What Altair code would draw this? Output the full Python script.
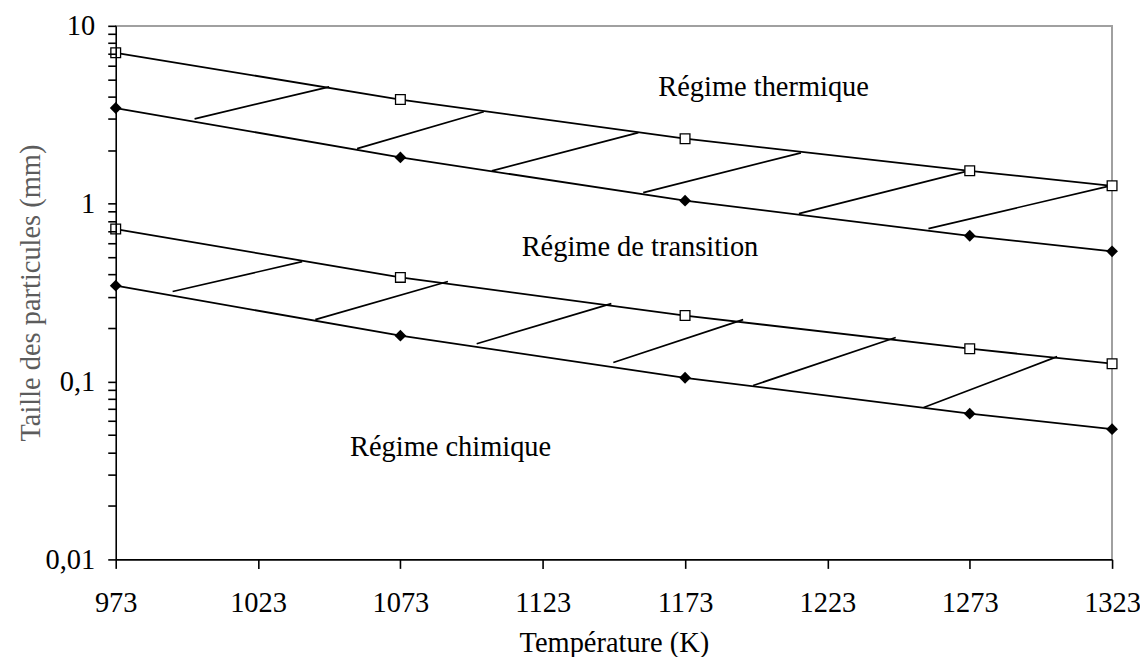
import altair as alt
import pandas as pd

# ---- data ----
temps = [973, 1073, 1173, 1273, 1323]
upper_sq = [7.05, 3.85, 2.32, 1.53, 1.26]
upper_dm = [3.45, 1.82, 1.04, 0.66, 0.54]
lower_sq = [0.72, 0.385, 0.235, 0.153, 0.126]
lower_dm = [0.346, 0.181, 0.105, 0.066, 0.054]

hatch_x0 = [1000.7, 1057.8, 1105.1, 1158.3, 1213.0, 1258.5, 993.0, 1043.1, 1099.8, 1147.8, 1196.9, 1256.8]
hatch_y0 = [3.00, 2.04, 1.53, 1.153, 0.879, 0.724, 0.321, 0.223, 0.163, 0.128, 0.095, 0.0715]
hatch_x1 = [1048.0, 1102.3, 1156.6, 1213.7, 1272.5, 1322.3, 1038.5, 1089.7, 1147.1, 1193.4, 1247.0, 1303.7]
hatch_y1 = [4.54, 3.29, 2.51, 1.93, 1.53, 1.26, 0.472, 0.365, 0.274, 0.223, 0.177, 0.138]

region_labels = ["Régime thermique", "Régime de transition", "Régime chimique"]
region_x = [1163.6, 1115.6, 1055.3]
region_y = [4.04, 0.51, 0.0379]

x_ticks = [973, 1023, 1073, 1123, 1173, 1223, 1273, 1323]
y_ticks = [m * 10.0 ** e for e in (-2, -1, 0) for m in range(1, 10)] + [10]
y_ticks = [float(f"{v:.3g}") for v in y_ticks]

FONT = "Liberation Serif, Times New Roman, DejaVu Serif, serif"
FS = 28.5

# ---- tables ----
rows = []
for name, marker, vals in [("sup_th", "square", upper_sq), ("sup_tr", "diamond", upper_dm),
                           ("inf_th", "square", lower_sq), ("inf_tr", "diamond", lower_dm)]:
    for t, v in zip(temps, vals):
        rows.append({"serie": name, "marker": marker, "T": t, "d": v})
df = pd.DataFrame(rows)
hatch = pd.DataFrame({"x0": hatch_x0, "y0": hatch_y0, "x1": hatch_x1, "y1": hatch_y1})
ann = pd.DataFrame({"label": region_labels, "x": region_x, "y": region_y})

xscale = alt.Scale(domain=[973, 1323], nice=False, zero=False)
yscale = alt.Scale(type="log", domain=[0.01, 10], nice=False)

xaxis = alt.Axis(values=x_ticks, format="d", title="Température (K)", grid=False, labelFlush=False,
                 labelOverlap=False, labelBound=False, tickSize=9, labelPadding=20,
                 labelFont=FONT, labelFontSize=FS, labelColor="#000000",
                 titleFont=FONT, titleFontSize=FS, titleFontWeight="normal", titleColor="#000000",
                 titleY=92, titleBaseline="alphabetic",
                 domainColor="#000000", tickColor="#000000", domainWidth=1.6, tickWidth=1.6, zindex=2)
yaxis = alt.Axis(values=y_ticks, title="Taille des particules (mm)", grid=False,
                 labelExpr="datum.value == 10 ? '10' : datum.value == 1 ? '1' : datum.value == 0.1 ? '0,1' : datum.value == 0.01 ? '0,01' : ''",
                 labelOverlap=False, labelFlush=False, labelBound=False, tickSize=8, labelPadding=13,
                 labelFont=FONT, labelFontSize=FS, labelColor="#000000",
                 titleFont=FONT, titleFontSize=FS, titleFontWeight="normal", titleColor="#5c5c5c",
                 titleX=-76, titleBaseline="alphabetic",
                 domainColor="#000000", tickColor="#000000", domainWidth=1.6, tickWidth=1.6, zindex=2)

base = alt.Chart(df)
lines = base.mark_line(color="black", strokeWidth=1.8).encode(
    x=alt.X("T:Q", scale=xscale, axis=xaxis),
    y=alt.Y("d:Q", scale=yscale, axis=yaxis),
    detail="serie:N",
)
squares = base.transform_filter(alt.datum.marker == "square").mark_point(
    shape="square", fill="white", stroke="black", strokeWidth=1.3, size=95, opacity=1, filled=False
).encode(x="T:Q", y="d:Q")
diamonds = base.transform_filter(alt.datum.marker == "diamond").mark_point(
    shape="diamond", filled=True, color="black", size=140, opacity=1
).encode(x="T:Q", y="d:Q")

hatch_lines = alt.Chart(hatch).mark_rule(color="black", strokeWidth=1.7).encode(
    x="x0:Q", y="y0:Q", x2="x1:Q", y2="y1:Q"
)

labels = alt.Chart(ann).mark_text(font=FONT, fontSize=FS, align="left", baseline="alphabetic",
                                  color="black").encode(x="x:Q", y="y:Q", text="label:N")

top_border = alt.Chart(df).mark_rule(color="#a0a0a0", strokeWidth=1.5).encode(
    x=alt.value(0), x2=alt.value(999), y=alt.value(0))
right_border = alt.Chart(df).mark_rule(color="#a0a0a0", strokeWidth=1.5).encode(
    x=alt.value(999), y=alt.value(0), y2=alt.value(535))

chart = alt.layer(top_border, right_border, hatch_lines, lines, squares, diamonds, labels).properties(
    width=999, height=535,
    autosize=alt.AutoSizeParams(type="none"),
    padding={"left": 108, "top": 17, "right": 28, "bottom": 100},
).configure_view(stroke=None)

chart.save("out.html", embed_options={"renderer": "svg", "actions": False})
